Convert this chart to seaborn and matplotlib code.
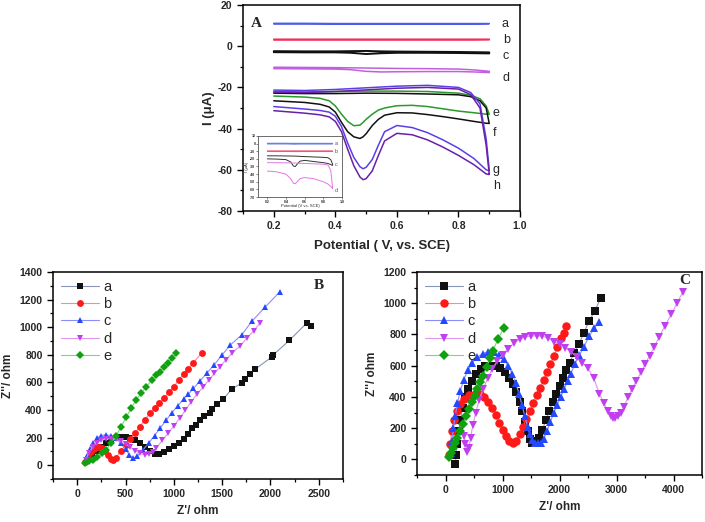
import matplotlib
matplotlib.use("Agg")
import matplotlib.pyplot as plt
from matplotlib.ticker import MultipleLocator
import seaborn as sns

# ---------------- panel A : cyclic voltammograms ----------------
E_flat = [0.2, 0.3, 0.4, 0.45, 0.5, 0.55, 0.6, 0.7, 0.8, 0.85, 0.9]
a_up = [11.1, 11.1, 11.0, 11.0, 11.0, 11.0, 11.0, 11.0, 11.0, 11.0, 11.0]
a_dn = [10.8, 10.8, 10.8, 10.8, 10.7, 10.8, 10.8, 10.8, 10.8, 10.8, 10.9]
b_up = [3.4, 3.4, 3.4, 3.4, 3.4, 3.4, 3.4, 3.4, 3.4, 3.4, 3.4]
b_dn = [3.0, 3.0, 3.0, 3.0, 3.0, 3.0, 3.0, 3.0, 3.0, 3.0, 3.1]
c_up = [-2.4, -2.5, -2.5, -2.4, -2.3, -2.5, -2.6, -2.7, -2.8, -2.9, -3.0]
c_dn = [-2.9, -3.0, -3.0, -3.2, -3.8, -3.4, -3.2, -3.2, -3.3, -3.4, -3.5]
d_up = [-10.2, -10.3, -10.4, -10.5, -10.6, -10.7, -10.8, -10.9, -11.1, -11.5, -12.2]
d_dn = [-10.9, -11.0, -11.1, -11.4, -12.2, -12.5, -12.4, -12.3, -12.3, -12.5, -12.8]

E_up = [0.2, 0.3, 0.4, 0.5, 0.6, 0.7, 0.8, 0.84, 0.87, 0.89, 0.9]
E_dn = [0.9, 0.89, 0.85, 0.8, 0.75, 0.7, 0.65, 0.6, 0.56, 0.54, 0.52,
        0.5, 0.49, 0.48, 0.46, 0.44, 0.42, 0.4, 0.38, 0.35, 0.3, 0.2]
e_up = [-22.0, -22.2, -22.0, -21.8, -21.8, -22.0, -22.8, -23.8, -25.5, -29.0, -33.0]
e_dn = [-33.0, -33.0, -32.3, -31.5, -30.4, -29.3, -28.7, -28.9, -30.0, -31.0, -33.0,
        -35.5, -37.0, -38.3, -38.6, -36.5, -33.0, -29.0, -26.5, -25.3, -24.7, -24.2]
f_up = [-22.8, -23.0, -23.0, -22.8, -22.9, -23.2, -23.6, -24.5, -26.5, -30.0, -37.5]
f_dn = [-37.5, -37.4, -36.5, -35.3, -34.2, -33.2, -32.4, -32.3, -33.5, -35.5, -38.5,
        -42.5, -44.0, -44.8, -44.0, -41.5, -37.0, -32.0, -29.5, -28.2, -27.3, -26.5]
g_up = [-21.3, -21.5, -21.0, -20.2, -19.4, -19.0, -20.0, -22.5, -28.0, -45.0, -60.0]
g_dn = [-60.5, -60.0, -54.5, -49.5, -45.5, -42.0, -39.5, -38.5, -41.5, -48.0, -55.0,
        -58.8, -59.5, -58.5, -54.0, -47.0, -39.0, -34.0, -32.0, -31.2, -30.5, -29.3]
h_up = [-22.3, -22.5, -22.0, -21.2, -20.4, -20.0, -20.8, -23.5, -30.0, -48.0, -62.0]
h_dn = [-62.3, -62.0, -57.5, -53.0, -49.0, -45.5, -43.0, -42.3, -46.0, -53.0, -60.5,
        -64.3, -64.8, -63.5, -58.0, -50.0, -41.5, -36.5, -34.3, -33.3, -32.5, -31.3]

# inset of panel A
E_in = [0.2, 0.3, 0.4, 0.45, 0.48, 0.5, 0.52, 0.55, 0.6, 0.7, 0.8, 0.85, 0.88, 0.9]
ia_up = [0.5, 0.5, 0.5, 0.4, 0.4, 0.4, 0.4, 0.4, 0.4, 0.4, 0.4, 0.4, 0.4, 0.4]
ia_dn = [-0.5, -0.5, -0.5, -0.6, -0.8, -0.8, -0.7, -0.6, -0.6, -0.6, -0.6, -0.6, -0.6, -0.5]
ib_up = [-9.5, -9.5, -9.5, -9.5, -9.5, -9.5, -9.5, -9.5, -9.5, -9.5, -9.5, -9.5, -9.5, -9.6]
ib_dn = [-10.4, -10.4, -10.4, -10.4, -10.5, -10.5, -10.5, -10.4, -10.4, -10.4, -10.4, -10.4, -10.4, -10.3]
ic_up = [-16.0, -16.0, -16.2, -16.3, -16.3, -16.4, -16.5, -16.7, -17.0, -17.5, -18.0, -18.5, -21.0, -27.0]
ic_dn = [-20.0, -20.3, -21.0, -24.0, -29.5, -30.0, -27.0, -23.0, -22.0, -23.5, -25.0, -26.0, -27.5, -28.5]
id_up = [-25.0, -25.0, -25.2, -25.3, -25.4, -25.5, -25.6, -25.8, -26.0, -26.5, -27.0, -28.0, -35.0, -58.0]
id_dn = [-36.0, -37.0, -40.0, -46.0, -52.0, -52.5, -50.0, -46.0, -44.5, -46.0, -50.0, -53.0, -56.0, -59.0]

# ---------------- panel B : Nyquist plots ----------------
Ba_x = [100, 150, 200, 250, 300, 350, 400, 450, 500, 550, 600, 650, 700, 750, 800, 850,
        900, 950, 1000, 1050, 1100, 1150, 1186, 1231, 1272, 1317, 1375, 1393, 1444, 1513,
        1600, 1703, 1737, 1789, 1841, 2013, 2030, 2196, 2375, 2420]
Ba_y = [35, 65, 100, 135, 163, 183, 196, 203, 205, 200, 185, 160, 130, 100, 80, 78,
        92, 115, 138, 163, 193, 228, 270, 294, 330, 358, 378, 409, 443, 481,
        551, 597, 628, 664, 695, 784, 800, 905, 1030, 1010]
Bb_x = [80, 110, 140, 170, 200, 230, 260, 290, 320, 350, 370, 400, 450, 500, 550, 600,
        650, 700, 750, 800, 850, 900, 950, 1000, 1050, 1100, 1150, 1200, 1290]
Bb_y = [20, 60, 95, 118, 130, 132, 125, 105, 75, 42, 35, 55, 100, 145, 190, 235,
        280, 330, 375, 415, 450, 490, 530, 570, 615, 660, 700, 740, 815]
Bc_x = [80, 100, 130, 160, 200, 250, 300, 350, 400, 450, 500, 540, 580, 620, 680, 740,
        800, 860, 920, 980, 1040, 1100, 1150, 1203, 1272, 1341, 1417, 1496, 1582, 1703,
        1806, 1944, 2099]
Bc_y = [30, 70, 120, 160, 195, 215, 220, 215, 195, 160, 115, 75, 50, 65, 110, 160,
        215, 270, 325, 380, 430, 480, 515, 556, 611, 667, 727, 796, 869, 945,
        1042, 1145, 1258]
Bd_x = [90, 120, 160, 200, 250, 300, 350, 400, 450, 500, 550, 600, 650, 700, 740, 780,
        820, 880, 940, 1000, 1060, 1120, 1180, 1240, 1300, 1360, 1420, 1480, 1540, 1600,
        1680, 1760, 1830, 1890]
Bd_y = [40, 90, 130, 160, 180, 190, 192, 188, 175, 155, 130, 105, 85, 75, 78, 95,
        125, 180, 230, 285, 340, 400, 460, 515, 565, 615, 665, 715, 765, 810,
        860, 925, 975, 1030]
Be_x = [80, 120, 165, 210, 260, 303, 350, 406, 455, 510, 560, 613, 665, 717, 770, 820,
        855, 900, 943, 985, 1027]
Be_y = [17, 28, 41, 60, 85, 113, 160, 215, 280, 350, 415, 474, 525, 570, 615, 650,
        678, 712, 743, 780, 811]

# ---------------- panel C : Nyquist plots ----------------
Ca_x = [175, 185, 200, 230, 260, 300, 350, 400, 460, 540, 620, 700, 800, 880, 960, 1040,
        1110, 1180, 1240, 1300, 1350, 1400, 1440, 1480, 1520, 1560, 1600, 1640, 1700, 1760,
        1820, 1880, 1940, 2000, 2060, 2120, 2180, 2250, 2340, 2430, 2515, 2620, 2720]
Ca_y = [-28, 30, 100, 180, 250, 330, 400, 450, 500, 550, 580, 595, 600, 598, 585, 560,
        520, 480, 430, 370, 310, 240, 180, 130, 105, 105, 120, 140, 190, 250,
        310, 370, 420, 470, 520, 570, 620, 680, 739, 810, 885, 950, 1033]
Cb_x = [60, 80, 110, 150, 200, 260, 330, 420, 520, 600, 680, 750, 820, 880, 940, 1000,
        1060, 1120, 1180, 1240, 1300, 1360, 1420, 1480, 1540, 1600, 1660, 1720, 1780, 1840,
        1900, 1960, 2020, 2070, 2120]
Cb_y = [30, 100, 180, 250, 310, 355, 390, 412, 420, 418, 400, 370, 330, 285, 235, 190,
        150, 115, 103, 115, 160, 210, 260, 310, 360, 410, 460, 510, 560, 610,
        660, 720, 780, 810, 855]
Cc_x = [90, 110, 140, 170, 210, 260, 320, 390, 470, 560, 650, 750, 850, 940, 1020, 1100,
        1170, 1230, 1290, 1340, 1390, 1440, 1480, 1520, 1570, 1620, 1670, 1720, 1780, 1840,
        1900, 1960, 2020, 2080, 2140, 2200, 2270, 2350, 2430, 2520, 2610, 2700]
Cc_y = [40, 120, 200, 280, 360, 440, 510, 570, 620, 655, 678, 688, 685, 670, 640, 600,
        550, 490, 420, 350, 280, 210, 160, 125, 108, 105, 108, 130, 180, 240,
        300, 350, 400, 450, 500, 550, 610, 670, 720, 790, 840, 880]
Cd_x = [320, 350, 380, 410, 440, 480, 530, 590, 660, 740, 820, 910, 1000, 1100, 1200, 1300,
        1400, 1500, 1600, 1700, 1800, 1900, 2000, 2100, 2200, 2300, 2400, 2500, 2600, 2700,
        2780, 2850, 2900, 2940, 2980, 3020, 3070, 3130, 3200, 3270, 3350, 3430, 3500, 3580,
        3660, 3750, 3850, 3960, 4060, 4160]
Cd_y = [150, 100, 50, 70, 140, 220, 300, 380, 450, 520, 580, 630, 670, 710, 745, 770,
        785, 790, 792, 790, 775, 755, 740, 715, 690, 655, 615, 585, 520, 420,
        360, 310, 278, 265, 268, 280, 300, 335, 400, 450, 505, 560, 610, 665,
        720, 785, 855, 930, 1000, 1070]
Ce_x = [60, 90, 130, 163, 200, 250, 300, 367, 420, 470, 511, 560, 610, 658, 720, 780,
        833, 920, 1019]
Ce_y = [15, 40, 75, 107, 140, 180, 225, 279, 325, 370, 407, 450, 495, 536, 590, 650,
        697, 770, 840]

labels = ["a", "b", "c", "d", "e"]

sns.set_style("ticks")
plt.rcParams["font.family"] = ["Liberation Sans", "DejaVu Sans"]
plt.rcParams["font.weight"] = "bold"
plt.rcParams["axes.unicode_minus"] = False
plt.rcParams["xtick.direction"] = "out"
plt.rcParams["ytick.direction"] = "out"

fig = plt.figure(figsize=(7.05, 5.22), dpi=100)


def style_axes(ax, size=7.5):
    for s in ax.spines.values():
        s.set_linewidth(1.1)
        s.set_color("black")
    ax.tick_params(which="major", length=4, width=1, labelsize=size, color="black")
    ax.tick_params(which="minor", length=2.5, width=0.9, color="black")
    for t in ax.get_xticklabels() + ax.get_yticklabels():
        t.set_fontweight("bold")


def loop(ax, ex, up, ed, dn, color, lw=1.1):
    xs = list(ex) + list(ed)
    ys = list(up) + list(dn)
    sns.lineplot(x=xs, y=ys, sort=False, estimator=None, color=color, lw=lw, ax=ax)


# ---- A ----
axA = fig.add_axes([0.3447, 0.5958, 0.3929, 0.3946])
E_flat_r = E_flat[::-1]
loop(axA, E_flat, a_up, E_flat_r, a_dn[::-1], "#4a5ee8")
loop(axA, E_flat, b_up, E_flat_r, b_dn[::-1], "#f0305a")
loop(axA, E_flat, c_up, E_flat_r, c_dn[::-1], "#111111", lw=1.4)
loop(axA, E_flat, d_up, E_flat_r, d_dn[::-1], "#c25fe0")
loop(axA, E_up, e_up, E_dn, e_dn, "#2a9a2a")
loop(axA, E_up, f_up, E_dn, f_dn, "#111111")
loop(axA, E_up, g_up, E_dn, g_dn, "#5b3fe6")
loop(axA, E_up, h_up, E_dn, h_dn, "#6a1fa8")
axA.set_xlim(0.1, 1.0)
axA.set_ylim(-80, 20)
axA.xaxis.set_major_locator(MultipleLocator(0.2))
axA.xaxis.set_minor_locator(MultipleLocator(0.1))
axA.yaxis.set_major_locator(MultipleLocator(20))
axA.yaxis.set_minor_locator(MultipleLocator(10))
axA.set_xlabel("Potential ( V, vs. SCE)", fontsize=9.5, fontweight="bold", labelpad=6)
axA.set_ylabel("I (μA)", fontsize=9.5, fontweight="bold", labelpad=2)
style_axes(axA)
for lab, xx, yy in [("a", 0.94, 11), ("b", 0.944, 3), ("c", 0.944, -4.8), ("d", 0.944, -15.5),
                    ("e", 0.912, -32.6), ("f", 0.912, -42.3), ("g", 0.912, -60.1),
                    ("h", 0.912, -67.9)]:
    axA.text(xx, yy, lab, fontsize=9, fontweight="normal", va="center", ha="left")
axA.text(0.03, 0.91, "A", transform=axA.transAxes, fontsize=11, fontweight="bold",
         family="Liberation Serif", va="center")

# inset
axI = fig.add_axes([0.366, 0.6226, 0.119, 0.1169])
loop(axI, E_in, ia_up, E_in[::-1], ia_dn[::-1], "#6a80e8", lw=0.7)
loop(axI, E_in, ib_up, E_in[::-1], ib_dn[::-1], "#f05575", lw=0.7)
loop(axI, E_in, ic_up, E_in[::-1], ic_dn[::-1], "#333333", lw=0.7)
loop(axI, E_in, id_up, E_in[::-1], id_dn[::-1], "#e277e2", lw=0.7)
axI.set_xlim(0.1, 1.0)
axI.set_ylim(-70, 10)
axI.xaxis.set_major_locator(MultipleLocator(0.2))
axI.yaxis.set_major_locator(MultipleLocator(10))
for s in axI.spines.values():
    s.set_linewidth(0.6)
    s.set_color("#555555")
axI.tick_params(length=1.2, width=0.4, labelsize=2.5, pad=0.8)
axI.set_xlabel("Potential (V vs. SCE)", fontsize=3, labelpad=0.5)
axI.set_ylabel("I (μA)", fontsize=3, labelpad=0.5)
for lab, yy in [("a", 0), ("b", -10), ("c", -28), ("d", -62)]:
    axI.text(0.925, yy, lab, fontsize=4, fontweight="normal", color="#555555", va="center")

# ---- B and C ----
markers = ["s", "o", "^", "v", "D"]
mcolors = ["#111111", "#ff1a1a", "#2448ff", "#c040f0", "#10a010"]
lcolors = ["#8894b8", "#ff86a8", "#8c8cff", "#e096f0", "#6ee06e"]
msizes = [4, 4.5, 4.5, 4.5, 3.5]


def nyquist(ax, xs_list, ys_list, scale):
    for i in range(5):
        sns.lineplot(x=xs_list[i], y=ys_list[i], sort=False, estimator=None, ax=ax,
                     color=lcolors[i], lw=0.8, marker=markers[i],
                     markersize=msizes[i] * scale, markerfacecolor=mcolors[i],
                     markeredgecolor=mcolors[i], markeredgewidth=0, label=labels[i])
    ax.legend(loc="upper left", frameon=False, handlelength=2.6,
              handletextpad=0.3, labelspacing=0.22, borderaxespad=0.15,
              prop={"weight": "normal", "size": 10.5})
    ax.set_xlabel("Z'/ ohm", fontsize=8.5, fontweight="bold")
    ax.set_ylabel("Z''/ ohm", fontsize=8.5, fontweight="bold")


axB = fig.add_axes([0.0752, 0.0824, 0.4113, 0.3966])
nyquist(axB, [Ba_x, Bb_x, Bc_x, Bd_x, Be_x], [Ba_y, Bb_y, Bc_y, Bd_y, Be_y], 1.1)
axB.set_xlim(-250, 2750)
axB.set_ylim(-100, 1400)
axB.set_xticks([0, 500, 1000, 1500, 2000, 2500])
axB.xaxis.set_minor_locator(MultipleLocator(250))
axB.yaxis.set_major_locator(MultipleLocator(200))
axB.yaxis.set_minor_locator(MultipleLocator(100))
style_axes(axB)
axB.text(0.918, 0.937, "B", transform=axB.transAxes, fontsize=11, fontweight="bold",
         family="Liberation Serif", va="center", ha="center")

axC = fig.add_axes([0.5915, 0.0900, 0.4043, 0.3889])
nyquist(axC, [Ca_x, Cb_x, Cc_x, Cd_x, Ce_x], [Ca_y, Cb_y, Cc_y, Cd_y, Ce_y], 1.35)
axC.set_xlim(-500, 4500)
axC.set_ylim(-100, 1200)
axC.set_xticks([0, 1000, 2000, 3000, 4000])
axC.xaxis.set_minor_locator(MultipleLocator(500))
axC.yaxis.set_major_locator(MultipleLocator(200))
axC.yaxis.set_minor_locator(MultipleLocator(100))
style_axes(axC)
axC.text(0.938, 0.96, "C", transform=axC.transAxes, fontsize=11, fontweight="bold",
         family="Liberation Serif", va="center", ha="center")

fig.savefig("out.png", dpi=100)
